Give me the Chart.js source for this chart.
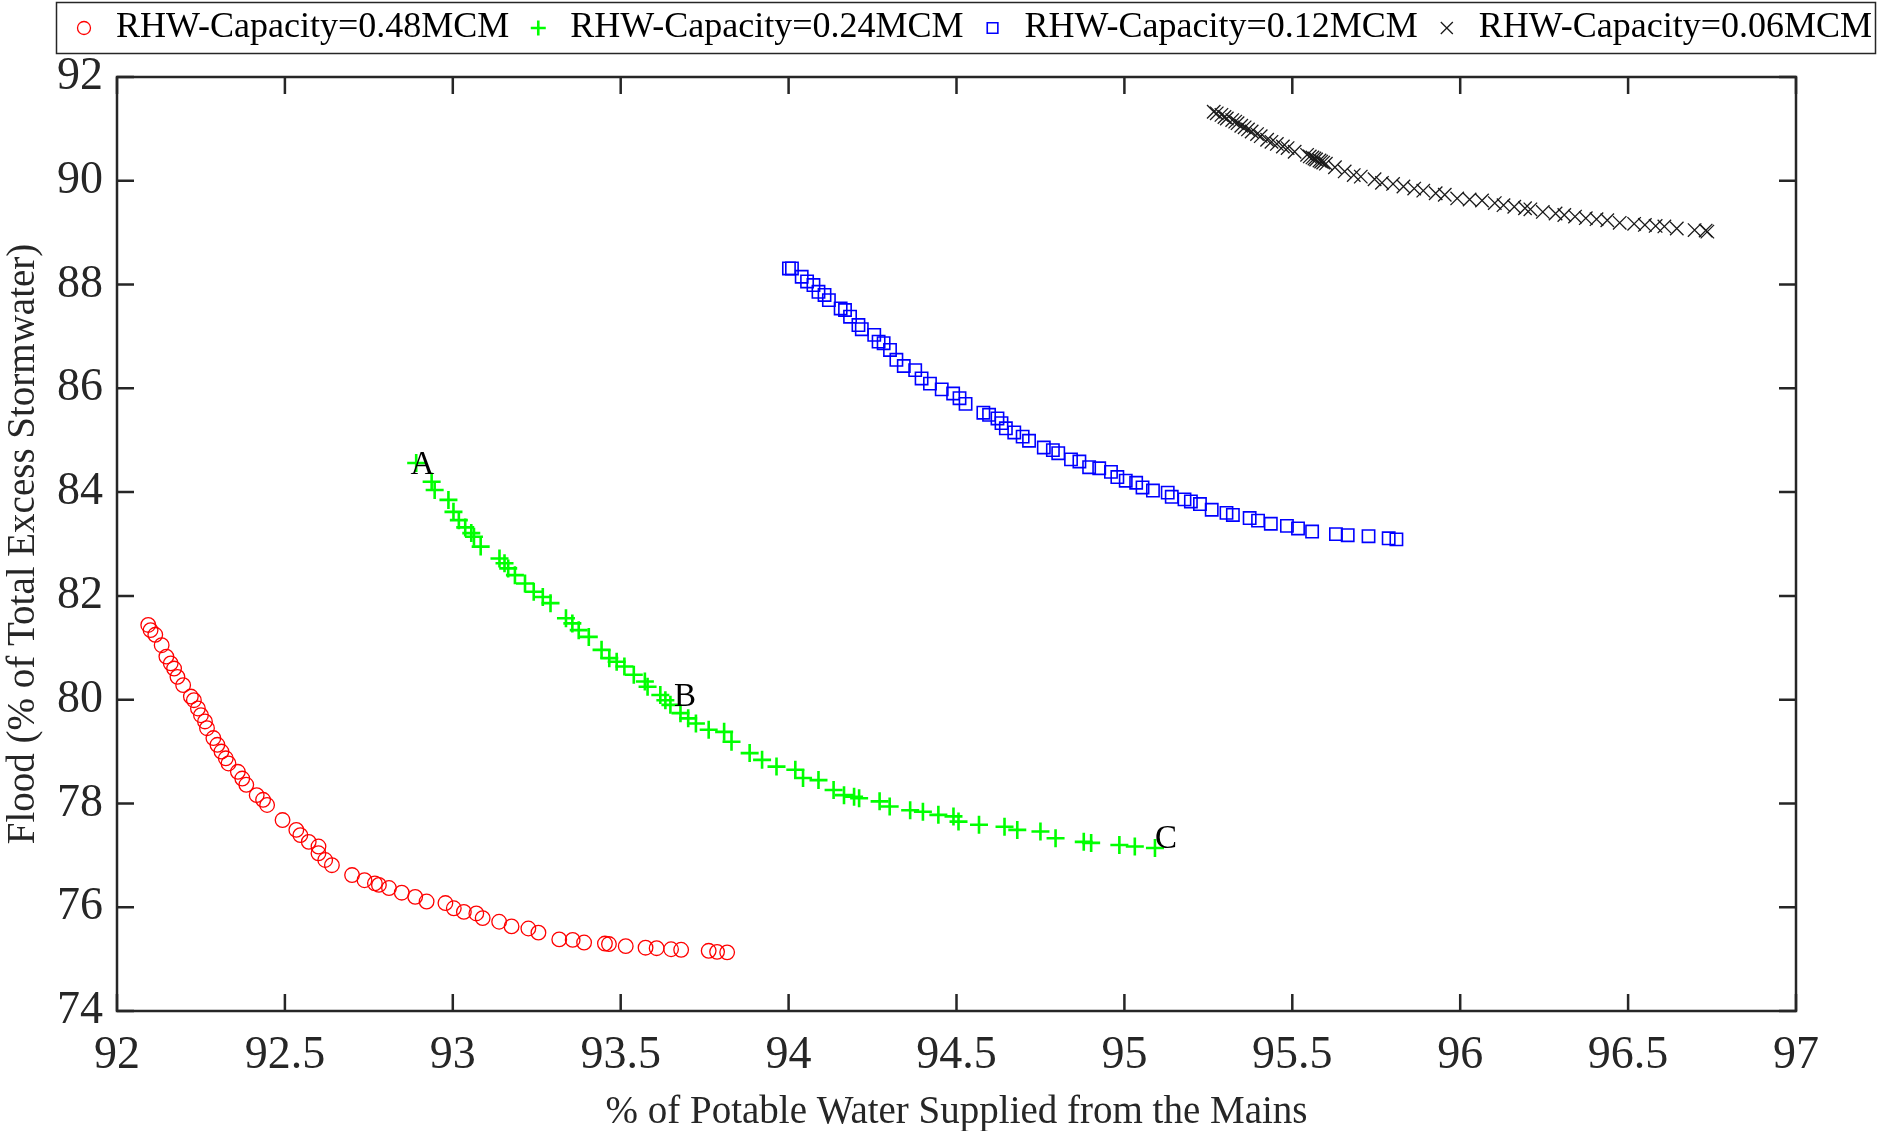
<!DOCTYPE html>
<html><head><meta charset="utf-8">
<script src="https://cdn.jsdelivr.net/npm/chart.js@4.4.1/dist/chart.umd.min.js"></script>
<style>html,body{margin:0;padding:0;background:#fff;}</style>
</head><body>
<canvas id="c" width="1883" height="1131"></canvas>
<script>
// ---------------- data ----------------
const seriesLabels = ['RHW-Capacity=0.48MCM','RHW-Capacity=0.24MCM','RHW-Capacity=0.12MCM','RHW-Capacity=0.06MCM'];

const cap048X = [92.093,92.100,92.114,92.133,92.147,92.160,92.170,92.180,92.197,92.220,92.229,92.241,92.250,92.262,92.268,92.287,92.299,92.311,92.324,92.332,92.360,92.373,92.385,92.416,92.435,92.447,92.493,92.534,92.546,92.571,92.600,92.600,92.620,92.640,92.700,92.737,92.768,92.780,92.810,92.848,92.888,92.922,92.978,93.003,93.033,93.070,93.089,93.138,93.175,93.225,93.255,93.317,93.357,93.391,93.453,93.465,93.515,93.574,93.607,93.650,93.680,93.762,93.787,93.817];
const cap048Y = [81.44,81.34,81.25,81.05,80.83,80.70,80.60,80.44,80.28,80.06,79.99,79.83,79.70,79.58,79.45,79.26,79.13,79.00,78.87,78.77,78.61,78.48,78.36,78.16,78.07,77.97,77.68,77.49,77.39,77.26,77.17,77.04,76.91,76.81,76.62,76.52,76.46,76.43,76.37,76.28,76.20,76.11,76.08,75.98,75.91,75.88,75.79,75.72,75.63,75.59,75.51,75.38,75.37,75.32,75.30,75.29,75.25,75.22,75.21,75.19,75.18,75.16,75.14,75.13];

const cap024X = [92.891,92.937,92.946,92.987,93.002,93.018,93.037,93.055,93.063,93.083,93.139,93.154,93.165,93.185,93.215,93.241,93.268,93.291,93.337,93.356,93.375,93.405,93.443,93.466,93.488,93.511,93.539,93.572,93.580,93.618,93.633,93.648,93.678,93.701,93.724,93.762,93.808,93.830,93.884,93.921,93.964,94.020,94.043,94.089,94.134,94.165,94.195,94.210,94.271,94.301,94.362,94.400,94.446,94.491,94.506,94.567,94.643,94.681,94.750,94.795,94.879,94.901,94.985,95.031,95.091];
const cap024Y = [84.56,84.20,84.04,83.85,83.62,83.46,83.32,83.21,83.14,82.95,82.72,82.63,82.53,82.40,82.24,82.08,81.98,81.86,81.57,81.47,81.34,81.21,80.96,80.80,80.73,80.64,80.48,80.35,80.25,80.09,79.99,79.90,79.74,79.64,79.54,79.42,79.38,79.19,78.97,78.84,78.71,78.65,78.49,78.45,78.26,78.16,78.13,78.10,78.04,77.94,77.87,77.84,77.78,77.75,77.65,77.59,77.55,77.49,77.46,77.33,77.26,77.24,77.20,77.17,77.14];

const cap012X = [94.001,94.010,94.039,94.055,94.074,94.089,94.107,94.120,94.155,94.168,94.183,94.208,94.218,94.255,94.268,94.283,94.302,94.321,94.343,94.377,94.396,94.421,94.456,94.490,94.509,94.527,94.580,94.597,94.622,94.634,94.647,94.672,94.697,94.716,94.760,94.787,94.803,94.841,94.866,94.895,94.925,94.960,94.979,95.004,95.035,95.054,95.085,95.129,95.141,95.179,95.198,95.225,95.260,95.304,95.323,95.373,95.398,95.436,95.484,95.517,95.559,95.630,95.665,95.727,95.787,95.810];
const cap012Y = [88.31,88.31,88.15,88.06,87.99,87.86,87.80,87.70,87.54,87.51,87.38,87.22,87.14,87.03,86.90,86.87,86.74,86.55,86.43,86.35,86.19,86.09,85.98,85.90,85.81,85.70,85.53,85.49,85.42,85.33,85.23,85.15,85.07,84.99,84.86,84.81,84.75,84.63,84.59,84.48,84.46,84.39,84.29,84.22,84.18,84.09,84.03,83.99,83.91,83.86,83.82,83.77,83.66,83.60,83.56,83.50,83.45,83.39,83.35,83.30,83.24,83.19,83.17,83.15,83.11,83.09];

const cap006X = [95.266,95.275,95.289,95.298,95.305,95.321,95.330,95.337,95.348,95.358,95.368,95.379,95.395,95.406,95.425,95.438,95.454,95.472,95.486,95.507,95.544,95.552,95.560,95.566,95.571,95.581,95.586,95.592,95.600,95.627,95.656,95.683,95.704,95.745,95.767,95.800,95.831,95.863,95.890,95.927,95.954,95.991,96.028,96.065,96.103,96.129,96.161,96.193,96.209,96.246,96.284,96.310,96.342,96.374,96.406,96.438,96.475,96.518,96.550,96.582,96.608,96.645,96.698,96.731,96.736];
const cap006Y = [91.33,91.30,91.27,91.23,91.20,91.17,91.14,91.11,91.06,91.03,90.99,90.95,90.90,90.86,90.79,90.75,90.71,90.66,90.63,90.56,90.50,90.47,90.45,90.43,90.41,90.39,90.37,90.35,90.33,90.26,90.18,90.11,90.08,90.03,89.96,89.94,89.89,89.85,89.81,89.76,89.73,89.66,89.64,89.62,89.57,89.53,89.50,89.47,89.45,89.40,89.37,89.34,89.31,89.28,89.26,89.24,89.19,89.17,89.15,89.13,89.12,89.08,89.05,89.04,89.02];

const xTickValues = [92,92.5,93,93.5,94,94.5,95,95.5,96,96.5,97];
const xTickLabels = ['92','92.5','93','93.5','94','94.5','95','95.5','96','96.5','97'];
const yTickValues = [74,76,78,80,82,84,86,88,90,92];
const yTickLabels = ['74','76','78','80','82','84','86','88','90','92'];

const annotationLabels = ['A','B','C'];
const annotationX = [92.874,93.659,95.091];
const annotationY = [84.51,80.04,77.31];

const xTitle = '% of Potable Water Supplied from the Mains';
const yTitle = 'Flood (% of Total Excess Stormwater)';

// ---------------- chart ----------------
const FONT = '"Liberation Serif", "Times New Roman", serif';
const AXIS_COLOR = '#262626';

function pts(xs, ys){ return xs.map((x,i)=>({x:x, y:ys[i]})); }

const styles = [
  {pointStyle:'circle',   r:7.3, color:'#ff0000', w:1.3, lr:6.5},
  {pointStyle:'cross',    r:9,   color:'#00ff00', w:2.6, lr:7.5},
  {pointStyle:'rect',     r:8.7, color:'#0000ff', w:1.6, lr:7.5},
  {pointStyle:'crossRot', r:9.5, color:'#1a1a1a', w:1.3, lr:8.5}
];
const seriesData = [pts(cap048X,cap048Y), pts(cap024X,cap024Y), pts(cap012X,cap012Y), pts(cap006X,cap006Y)];

const datasets = seriesData.map((d,i)=>({
  label: seriesLabels[i],
  data: d,
  showLine: false,
  pointStyle: styles[i].pointStyle,
  pointRadius: styles[i].r,
  borderColor: styles[i].color,
  pointBorderColor: styles[i].color,
  backgroundColor: 'rgba(0,0,0,0)',
  pointBackgroundColor: 'rgba(0,0,0,0)',
  borderWidth: styles[i].w,
  pointBorderWidth: styles[i].w,
  legendRadius: styles[i].lr
}));

const framePlugin = {
  id: 'frame',
  afterDraw(chart){
    const {ctx, chartArea:a, scales} = chart;
    ctx.save();
    ctx.strokeStyle = AXIS_COLOR;
    ctx.lineWidth = 2.5;
    ctx.lineCap = 'butt';
    const tl = 17;
    ctx.beginPath();
    xTickValues.forEach(v=>{
      const px = scales.x.getPixelForValue(v);
      ctx.moveTo(px, a.bottom); ctx.lineTo(px, a.bottom - tl);
      ctx.moveTo(px, a.top); ctx.lineTo(px, a.top + tl);
    });
    yTickValues.forEach(v=>{
      const py = scales.y.getPixelForValue(v);
      ctx.moveTo(a.left, py); ctx.lineTo(a.left + tl, py);
      ctx.moveTo(a.right, py); ctx.lineTo(a.right - tl, py);
    });
    ctx.stroke();
    ctx.strokeRect(a.left, a.top, a.right - a.left, a.bottom - a.top);

    // annotations
    ctx.fillStyle = '#000';
    ctx.font = '33px ' + FONT;
    ctx.textAlign = 'left';
    ctx.textBaseline = 'middle';
    annotationLabels.forEach((t,i)=>{
      ctx.fillText(t, scales.x.getPixelForValue(annotationX[i]), scales.y.getPixelForValue(annotationY[i]));
    });

    // legend
    ctx.lineWidth = 1.5;
    ctx.strokeStyle = AXIS_COLOR;
    ctx.strokeRect(56.5, 2.5, 1819, 51);
    ctx.font = '36px ' + FONT;
    ctx.textAlign = 'left';
    ctx.textBaseline = 'middle';
    let x = 84;
    const cy = 28;
    chart.data.datasets.forEach(ds=>{
      ctx.save();
      ctx.strokeStyle = ds.borderColor;
      ctx.fillStyle = 'rgba(0,0,0,0)';
      ctx.lineWidth = ds.borderWidth;
      Chart.helpers.drawPoint(ctx, {pointStyle: ds.pointStyle, radius: ds.legendRadius, rotation: 0, borderWidth: ds.borderWidth}, x, cy);
      ctx.restore();
      ctx.fillStyle = '#000';
      ctx.fillText(ds.label, x + 32, cy);
      x += 32 + ctx.measureText(ds.label).width + 29;
    });
    ctx.restore();
  }
};

new Chart(document.getElementById('c'), {
  type: 'scatter',
  data: { datasets },
  plugins: [framePlugin],
  options: {
    responsive: false,
    animation: false,
    events: [],
    layout: { padding: { left: 0, right: 87, top: 77, bottom: 0 } },
    plugins: { legend: { display: false }, tooltip: { enabled: false } },
    scales: {
      x: {
        type: 'linear', position: 'bottom', min: 92, max: 97,
        afterBuildTicks(s){ s.ticks = xTickValues.map(v=>({value:v})); },
        afterFit(s){ s.height = 120; },
        grid: { display: false, drawTicks: false },
        border: { display: false },
        ticks: { padding: 17, color: AXIS_COLOR, font: { family: FONT, size: 46 }, maxRotation: 0, autoSkip: false,
                 callback: (v, i) => xTickLabels[i] },
        title: { display: true, text: xTitle, color: AXIS_COLOR, font: { family: FONT, size: 39 }, padding: { top: 0, bottom: -5 } }
      },
      y: {
        type: 'linear', position: 'left', min: 74, max: 92,
        afterBuildTicks(s){ s.ticks = yTickValues.map(v=>({value:v})); },
        afterFit(s){ s.width = 117; },
        grid: { display: false, drawTicks: false },
        border: { display: false },
        ticks: { padding: 14, color: AXIS_COLOR, font: { family: FONT, size: 46 }, autoSkip: false,
                 callback: (v, i) => yTickLabels[i] },
        title: { display: true, text: yTitle, color: AXIS_COLOR, font: { family: FONT, size: 39 }, padding: { top: 0, bottom: 0 } }
      }
    }
  }
});
</script>
</body></html>
